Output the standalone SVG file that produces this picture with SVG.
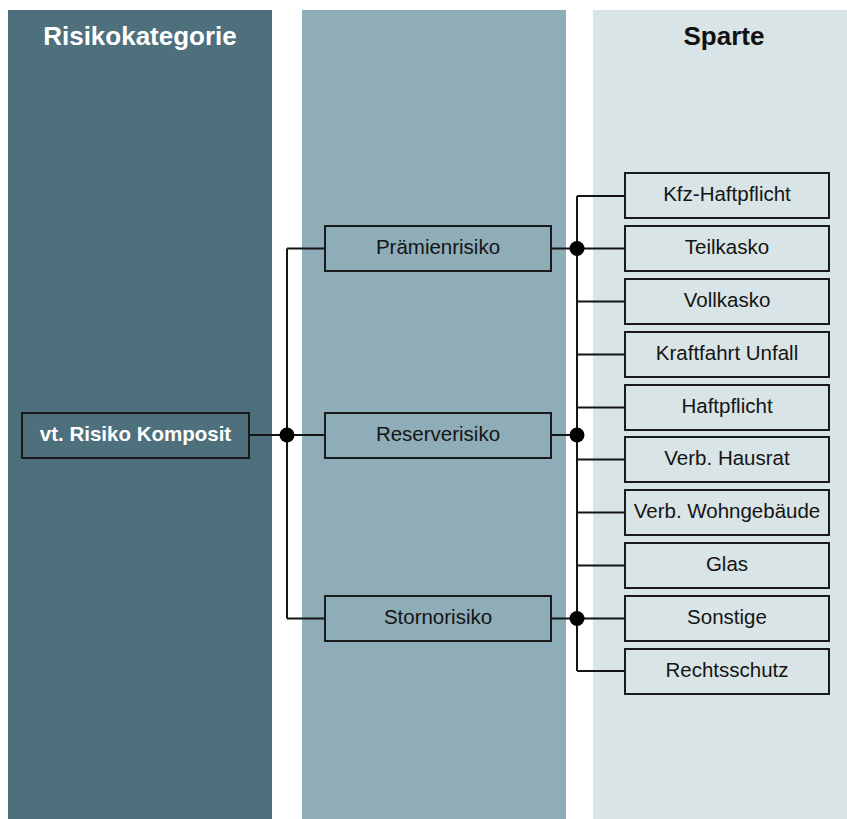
<svg xmlns="http://www.w3.org/2000/svg" width="847" height="819" viewBox="0 0 847 819">
<style>
.hdr{font-family:"Liberation Sans",Arial,sans-serif;font-size:26px;font-weight:bold;text-anchor:middle}
.lbl{font-family:"Liberation Sans",Arial,sans-serif;font-size:20.5px;text-anchor:middle;fill:#141414}
.box{stroke:#1a1a1a;stroke-width:2}
.c1{fill:#4e707d}.c2{fill:#8fadb8}.c3{fill:#d9e4e6}
.ln{fill:none;stroke:#141414;stroke-width:2}
.dot{fill:#000}
</style>
<rect width="847" height="819" fill="#fff"/>
<rect x="8" y="10" width="264" height="809" class="c1"/>
<rect x="302" y="10" width="264" height="809" class="c2"/>
<rect x="593" y="10" width="254" height="809" class="c3"/>
<text x="140" y="45" class="hdr" fill="#fff">Risikokategorie</text>
<text x="724" y="45" class="hdr" fill="#111">Sparte</text>
<g id="connectors">
<path class="ln" d="M249 435H325M287 248.5V618.5M287 248.5H325M287 618.5H325"/>
<path class="ln" d="M551 248.5H625M551 435H577M551 618.5H625M577 196V671"/>
<path class="ln" d="M577 196H625M577 301.5H625M577 354.5H625M577 407.5H625M577 459.5H625M577 512.5H625M577 565.5H625M577 671H625"/>
<circle class="dot" cx="287" cy="435" r="7.5"/>
<circle class="dot" cx="577" cy="248.5" r="7.5"/>
<circle class="dot" cx="577" cy="435" r="7.5"/>
<circle class="dot" cx="577" cy="618.5" r="7.5"/>
</g>
<g id="komposit"><rect x="22" y="413" width="227" height="45" class="box c1"/><text x="135.5" y="440.5" class="lbl" style="fill:#fff;font-weight:bold">vt. Risiko Komposit</text></g>
<g id="praemie"><rect x="325" y="226" width="226" height="45" class="box c2"/><text x="438" y="254" class="lbl">Prämienrisiko</text></g>
<g id="reserve"><rect x="325" y="413" width="226" height="45" class="box c2"/><text x="438" y="440.5" class="lbl">Reserverisiko</text></g>
<g id="storno"><rect x="325" y="596" width="226" height="45" class="box c2"/><text x="438" y="624" class="lbl">Stornorisiko</text></g>
<g id="kfz"><rect x="625" y="173" width="204" height="45" class="box c3"/><text x="727" y="201" class="lbl">Kfz-Haftpflicht</text></g>
<g id="teilkasko"><rect x="625" y="226" width="204" height="45" class="box c3"/><text x="727" y="254" class="lbl">Teilkasko</text></g>
<g id="vollkasko"><rect x="625" y="279" width="204" height="45" class="box c3"/><text x="727" y="307" class="lbl">Vollkasko</text></g>
<g id="unfall"><rect x="625" y="332" width="204" height="45" class="box c3"/><text x="727" y="360" class="lbl">Kraftfahrt Unfall</text></g>
<g id="haftpflicht"><rect x="625" y="385" width="204" height="45" class="box c3"/><text x="727" y="413" class="lbl">Haftpflicht</text></g>
<g id="hausrat"><rect x="625" y="437" width="204" height="45" class="box c3"/><text x="727" y="465" class="lbl">Verb. Hausrat</text></g>
<g id="wohngebaeude"><rect x="625" y="490" width="204" height="45" class="box c3"/><text x="727" y="518" class="lbl">Verb. Wohngebäude</text></g>
<g id="glas"><rect x="625" y="543" width="204" height="45" class="box c3"/><text x="727" y="571" class="lbl">Glas</text></g>
<g id="sonstige"><rect x="625" y="596" width="204" height="45" class="box c3"/><text x="727" y="624" class="lbl">Sonstige</text></g>
<g id="rechtsschutz"><rect x="625" y="649" width="204" height="45" class="box c3"/><text x="727" y="677" class="lbl">Rechtsschutz</text></g>
</svg>
